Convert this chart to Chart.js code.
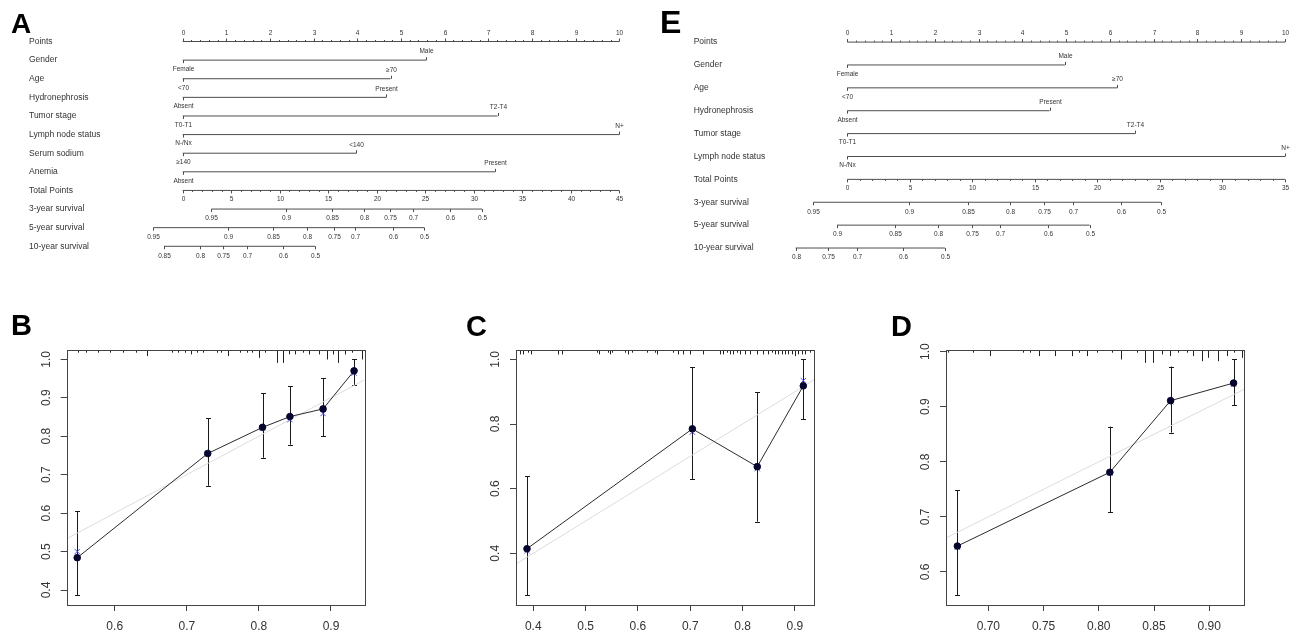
<!DOCTYPE html>
<html>
<head>
<meta charset="utf-8">
<script src="https://cdn.jsdelivr.net/npm/chart.js@4.4.1/dist/chart.umd.min.js"></script>
<style>
  body { margin: 0; background: #fff; width: 1294px; height: 635px; overflow: hidden; position: relative;
         font-family: 'Liberation Sans', Arial, sans-serif; }
  canvas { position: absolute; }
  .tag { position: absolute; font-weight: bold; line-height: 1; color: #000; z-index: 2; }
</style>
</head>
<body>
<div class="tag" style="left:11px;top:10px;font-size:28px">A</div>
<div class="tag" style="left:660px;top:6px;font-size:32px">E</div>
<div class="tag" style="left:11px;top:311px;font-size:29px">B</div>
<div class="tag" style="left:466px;top:312px;font-size:29px">C</div>
<div class="tag" style="left:891px;top:312px;font-size:29px">D</div>

<canvas id="nomoA" width="650" height="270" style="left:0;top:0"></canvas>
<canvas id="nomoE" width="644" height="276" style="left:650px;top:0"></canvas>
<canvas id="calB" width="430" height="335" style="left:0;top:300px"></canvas>
<canvas id="calC" width="430" height="335" style="left:430px;top:300px"></canvas>
<canvas id="calD" width="434" height="335" style="left:860px;top:300px"></canvas>

<script>
// ---- nomogram A ----
const aRowNames = ['Points', 'Gender', 'Age', 'Hydronephrosis', 'Tumor stage', 'Lymph node status',
  'Serum sodium', 'Anemia', 'Total Points', '3-year survival', '5-year survival', '10-year survival'];
const aLowLevels = ['Female', '<70', 'Absent', 'T0-T1', 'N-/Nx', '≥140', 'Absent'];
const aHighLevels = ['Male', '≥70', 'Present', 'T2-T4', 'N+', '<140', 'Present'];
const aHighPoints = [5.58, 4.76, 4.66, 7.21, 10, 3.98, 7.16];
const aTotalMax = 45;
const aSurv3 = [0.95, 0.9, 0.85, 0.8, 0.75, 0.7, 0.6, 0.5];
const aSurv3At = [2.95, 10.65, 15.36, 18.72, 21.4, 23.7, 27.5, 30.85];
const aSurv5 = [0.95, 0.9, 0.85, 0.8, 0.75, 0.7, 0.6, 0.5];
const aSurv5At = [-3.03, 4.7, 9.31, 12.81, 15.56, 17.79, 21.64, 24.9];
const aSurv10 = [0.85, 0.8, 0.75, 0.7, 0.6, 0.5];
const aSurv10At = [-1.93, 1.78, 4.19, 6.66, 10.31, 13.67];

// ---- nomogram E ----
const eRowNames = ['Points', 'Gender', 'Age', 'Hydronephrosis', 'Tumor stage', 'Lymph node status',
  'Total Points', '3-year survival', '5-year survival', '10-year survival'];
const eLowLevels = ['Female', '<70', 'Absent', 'T0-T1', 'N-/Nx'];
const eHighLevels = ['Male', '≥70', 'Present', 'T2-T4', 'N+'];
const eHighPoints = [4.97, 6.17, 4.62, 6.58, 10];
const eTotalMax = 35;
const eSurv3 = [0.95, 0.9, 0.85, 0.8, 0.75, 0.7, 0.6, 0.5];
const eSurv3At = [-2.72, 4.96, 9.68, 13.03, 15.7, 18.02, 21.89, 25.1];
const eSurv5 = [0.9, 0.85, 0.8, 0.75, 0.7, 0.6, 0.5];
const eSurv5At = [-0.82, 3.84, 7.28, 9.95, 12.23, 16.07, 19.38];
const eSurv10 = [0.8, 0.75, 0.7, 0.6, 0.5];
const eSurv10At = [-4.13, -1.52, 0.75, 4.43, 7.81];

// ---- calibration B ----
const bPred = [0.548, 0.729, 0.805, 0.843, 0.889, 0.932];
const bObs = [0.484, 0.755, 0.823, 0.851, 0.871, 0.970];
const bCorr = [0.500, 0.755, 0.822, 0.843, 0.859, 0.964];
const bLow = [0.387, 0.671, 0.744, 0.778, 0.800, 0.933];
const bHigh = [0.605, 0.847, 0.912, 0.930, 0.951, 1.0];
const bRugX = [0.5495, 0.560, 0.5764, 0.5935, 0.612, 0.6295, 0.645, 0.680, 0.688, 0.6975, 0.706, 0.714,
  0.723, 0.7415, 0.748, 0.757, 0.774, 0.783, 0.790, 0.800, 0.8085, 0.8255, 0.833, 0.842, 0.8505, 0.8616,
  0.870, 0.8838, 0.894, 0.9024, 0.910, 0.9194, 0.9287, 0.9425];
const bRugN = [1, 1, 1, 1, 1, 1, 3, 1, 1, 1, 2, 1, 1, 1, 1, 3, 1, 1, 1, 4, 1, 7, 7, 2, 2, 1, 2, 2, 5, 2, 7, 2, 1, 5];
const bXTicks = [0.6, 0.7, 0.8, 0.9];
const bYTicks = [0.4, 0.5, 0.6, 0.7, 0.8, 0.9, 1.0];

// ---- calibration C ----
const cPred = [0.388, 0.704, 0.828, 0.916];
const cObs = [0.414, 0.785, 0.668, 0.918];
const cCorr = [0.408, 0.775, 0.662, 0.934];
const cLow = [0.271, 0.630, 0.498, 0.815];
const cHigh = [0.639, 0.975, 0.899, 1.0];
const cRugX = [0.3746, 0.381, 0.3904, 0.395, 0.4478, 0.4543, 0.5211, 0.526, 0.5433, 0.5465, 0.5498, 0.5752,
  0.5815, 0.588, 0.6167, 0.6325, 0.6358, 0.6675, 0.677, 0.6866, 0.6994, 0.7248, 0.7567, 0.763, 0.7695,
  0.7758, 0.7821, 0.7886, 0.795, 0.8045, 0.814, 0.8268, 0.8394, 0.849, 0.8555, 0.8618, 0.868, 0.8746,
  0.8809, 0.8872, 0.8937, 0.900, 0.9063, 0.9128, 0.919, 0.9287];
const cRugN = [2, 2, 1, 2, 2, 2, 1, 2, 1, 2, 1, 1, 2, 1, 1, 1, 2, 1, 2, 2, 2, 2, 2, 2, 1, 2, 2, 1, 2, 2, 2, 2,
  2, 2, 1, 2, 2, 2, 2, 2, 2, 3, 2, 2, 2, 1];
const cXTicks = [0.4, 0.5, 0.6, 0.7, 0.8, 0.9];
const cYTicks = [0.4, 0.6, 0.8, 1.0];

// ---- calibration D ----
const dPred = [0.672, 0.810, 0.865, 0.922];
const dObs = [0.647, 0.781, 0.911, 0.943];
const dCorr = [0.645, 0.780, 0.909, 0.941];
const dLow = [0.558, 0.708, 0.853, 0.903];
const dHigh = [0.748, 0.864, 0.973, 0.986];
const dRugX = [0.6638, 0.6864, 0.7015, 0.7311, 0.7377, 0.7459, 0.7604, 0.7755, 0.7824, 0.7896, 0.7981, 0.8117,
  0.8201, 0.8343, 0.8418, 0.8493, 0.8569, 0.8644, 0.872, 0.8795, 0.8855, 0.8931, 0.8991, 0.9081, 0.9157,
  0.9224, 0.9293];
const dRugN = [1, 1, 3, 1, 1, 3, 3, 3, 1, 3, 1, 1, 5, 1, 7, 7, 2, 3, 1, 1, 3, 6, 4, 6, 3, 1, 4];
const dXTicks = [0.70, 0.75, 0.80, 0.85, 0.90];
const dYTicks = [0.6, 0.7, 0.8, 0.9, 1.0];

const FONT = "'Liberation Sans', Arial, sans-serif";
const LINE = '#4d4d4d';

function fmt(v) { return String(v); }

function makeNomogram(id, rows, low, high, highPts, totalMax, surv, survAt, g) {
  const nVar = low.length;
  const totalRow = nVar + 1;
  const k = 10 / totalMax;   // total points -> points scale
  const seg = (a, b, y) => ({
    data: [{ x: a, y }, { x: b, y }], borderColor: LINE, borderWidth: 1, pointRadius: 0, showLine: true
  });
  const datasets = [seg(0, 10, 0)];
  highPts.forEach((p, i) => datasets.push(seg(0, p, i + 1)));
  datasets.push(seg(0, 10, totalRow));
  surv.forEach((s, j) => {
    const at = survAt[j];
    datasets.push(seg(at[0] * k, at[at.length - 1] * k, totalRow + 1 + j));
  });

  const ticksPlugin = {
    id: 'nomoTicks',
    afterDatasetsDraw(chart) {
      const { ctx } = chart;
      const xs = chart.scales.x, ys = chart.scales.y;
      const px = v => Math.round(xs.getPixelForValue(v)) + 0.5;
      const py = r => ys.getPixelForValue(r);
      ctx.save();
      ctx.strokeStyle = LINE;
      ctx.lineWidth = 1;
      ctx.fillStyle = '#333';
      ctx.font = '6.5px ' + FONT;
      ctx.textAlign = 'center';
      ctx.textBaseline = 'middle';
      const tick = (x, y, len) => { ctx.beginPath(); ctx.moveTo(x, y); ctx.lineTo(x, y + len); ctx.stroke(); };
      // Points axis
      let y = py(0);
      for (let v = 0; v <= 10.001; v += 0.2) {
        const major = Math.abs(v - Math.round(v)) < 1e-6;
        tick(px(v), y, major ? -3 : -1.5);
        if (major) ctx.fillText(String(Math.round(v)), px(v), y - 8.5);
      }
      // variable rows
      highPts.forEach((p, i) => {
        const yy = py(i + 1);
        tick(px(0), yy, 3);
        ctx.fillText(low[i], px(0), yy + 9);
        tick(px(p), yy, -3);
        ctx.fillText(high[i], px(p), yy - 8.5);
      });
      // Total points axis
      y = py(totalRow);
      for (let v = 0; v <= totalMax; v += 1) {
        const major = v % 5 === 0;
        tick(px(v * k), y, major ? 3 : 1.5);
        if (major) ctx.fillText(String(v), px(v * k), y + 9);
      }
      // survival axes
      surv.forEach((labels, j) => {
        const yy = py(totalRow + 1 + j);
        labels.forEach((s, m) => {
          const x = px(survAt[j][m] * k);
          tick(x, yy, 3);
          ctx.fillText(fmt(s), x, yy + 9.5);
        });
      });
      ctx.restore();
    }
  };

  return new Chart(document.getElementById(id), {
    type: 'scatter',
    data: { datasets },
    options: {
      responsive: false,
      animation: false,
      devicePixelRatio: 1,
      layout: { padding: { left: g.padL, right: g.padR, top: g.padT, bottom: g.padB } },
      plugins: { legend: { display: false }, tooltip: { enabled: false } },
      scales: {
        x: { type: 'linear', display: false, min: g.xmin, max: g.xmax },
        y: {
          type: 'linear', reverse: true, min: -1, max: rows.length,
          afterBuildTicks: s => { s.ticks = rows.map((r, i) => ({ value: i })); },
          afterFit: s => { s.width = g.axisW; },
          grid: { display: false },
          border: { display: false },
          ticks: {
            autoSkip: false, crossAlign: 'far', padding: 0, color: '#333',
            font: { family: FONT, size: 8.5 },
            callback: v => rows[v]
          }
        }
      }
    },
    plugins: [ticksPlugin]
  });
}

function makeCalib(id, o) {
  const lim = o.lim;
  const ideal = [{ x: lim[0], y: lim[0] }, { x: lim[1], y: lim[1] }];
  const extras = {
    id: 'calExtras',
    beforeDatasetsDraw(chart) {
      const { ctx } = chart;
      const xs = chart.scales.x, ys = chart.scales.y;
      ctx.save();
      ctx.strokeStyle = '#1a1a1a';
      ctx.lineWidth = 1;
      o.x.forEach((v, i) => {
        const x = Math.round(xs.getPixelForValue(v)) + 0.5;
        const y1 = ys.getPixelForValue(o.low[i]), y2 = ys.getPixelForValue(o.high[i]);
        ctx.beginPath();
        ctx.moveTo(x, y1); ctx.lineTo(x, y2);
        ctx.moveTo(x - 2.5, Math.round(y1) + 0.5); ctx.lineTo(x + 2.5, Math.round(y1) + 0.5);
        ctx.moveTo(x - 2.5, Math.round(y2) + 0.5); ctx.lineTo(x + 2.5, Math.round(y2) + 0.5);
        ctx.stroke();
      });
      ctx.restore();
    },
    afterDraw(chart) {
      const { ctx, chartArea: a } = chart;
      const xs = chart.scales.x;
      ctx.save();
      ctx.strokeStyle = '#222';
      ctx.lineWidth = 1;
      o.rugX.forEach((v, i) => {
        const x = Math.round(xs.getPixelForValue(v)) + 0.5;
        ctx.beginPath();
        ctx.moveTo(x, a.top);
        ctx.lineTo(x, a.top + 1 + o.rugN[i] * 1.7);
        ctx.stroke();
      });
      ctx.strokeStyle = '#444';
      ctx.strokeRect(Math.round(a.left) + 0.5, Math.round(a.top) + 0.5,
        Math.round(a.right - a.left), Math.round(a.bottom - a.top));
      ctx.restore();
    }
  };
  const axisGrid = { display: true, drawOnChartArea: false, drawTicks: true, tickLength: 6, color: '#444' };
  return new Chart(document.getElementById(id), {
    type: 'scatter',
    data: {
      datasets: [
        {
          type: 'line', order: 1, data: o.x.map((v, i) => ({ x: v, y: o.obs[i] })),
          borderColor: '#2a2a2a', borderWidth: 1, pointRadius: 3.3,
          pointBackgroundColor: '#05052e', pointBorderColor: '#05052e'
        },
        {
          order: 2, data: o.x.map((v, i) => ({ x: v, y: o.corr[i] })), showLine: false,
          pointStyle: 'crossRot', pointRadius: 3.8, borderColor: '#4b4be8', borderWidth: 1
        },
        {
          type: 'line', order: 3, data: ideal, borderColor: '#dcdcdc', borderWidth: 1, pointRadius: 0
        }
      ]
    },
    options: {
      responsive: false,
      animation: false,
      devicePixelRatio: 1,
      layout: { padding: { left: o.padL, right: o.padR, top: 50, bottom: 0 } },
      plugins: { legend: { display: false }, tooltip: { enabled: false } },
      scales: {
        x: {
          type: 'linear', min: lim[0], max: lim[1],
          afterBuildTicks: s => { s.ticks = o.xTicks.map(v => ({ value: v })); },
          afterFit: s => { s.height = 30; },
          grid: axisGrid,
          border: { display: false },
          ticks: {
            autoSkip: false, maxRotation: 0, padding: 8, color: '#333',
            font: { family: FONT, size: 12 },
            callback: v => v.toFixed(o.xDec)
          }
        },
        y: {
          type: 'linear', min: lim[2], max: lim[3],
          afterBuildTicks: s => { s.ticks = o.yTicks.map(v => ({ value: v })); },
          afterFit: s => { s.width = 30; },
          grid: axisGrid,
          border: { display: false },
          ticks: {
            autoSkip: false, minRotation: 90, maxRotation: 90, crossAlign: 'center', padding: 6,
            color: '#333', font: { family: FONT, size: 12 },
            callback: v => v.toFixed(1)
          }
        }
      }
    },
    plugins: [extras]
  });
}

window.addEventListener('DOMContentLoaded', () => {
  makeNomogram('nomoA', aRowNames, aLowLevels, aHighLevels, aHighPoints, aTotalMax,
    [aSurv3, aSurv5, aSurv10], [aSurv3At, aSurv5At, aSurv10At],
    { xmin: -1.1, xmax: 10.1, padL: 29, axisW: 105.7, padR: 26.3, padT: 22.9, padB: 3.2 });

  makeNomogram('nomoE', eRowNames, eLowLevels, eHighLevels, eHighPoints, eTotalMax,
    [eSurv3, eSurv5, eSurv10], [eSurv3At, eSurv5At, eSurv10At],
    { xmin: -1.4, xmax: 10.15, padL: 43.7, axisW: 92.3, padR: 2.4, padT: 19.2, padB: 2.9 });

  makeCalib('calB', {
    x: bPred, obs: bObs, corr: bCorr, low: bLow, high: bHigh, rugX: bRugX, rugN: bRugN,
    xTicks: bXTicks, yTicks: bYTicks, xDec: 1, lim: [0.5334, 0.9462, 0.361, 1.0242],
    padL: 36.7, padR: 65.7
  });
  makeCalib('calC', {
    x: cPred, obs: cObs, corr: cCorr, low: cLow, high: cHigh, rugX: cRugX, rugN: cRugN,
    xTicks: cXTicks, yTicks: cYTicks, xDec: 1, lim: [0.367, 0.937, 0.240, 1.029],
    padL: 56, padR: 45.7
  });
  makeCalib('calD', {
    x: dPred, obs: dObs, corr: dCorr, low: dLow, high: dHigh, rugX: dRugX, rugN: dRugN,
    xTicks: dXTicks, yTicks: dYTicks, xDec: 2, lim: [0.6617, 0.9317, 0.540, 1.003],
    padL: 56, padR: 49.7
  });
});
</script>
</body>
</html>
